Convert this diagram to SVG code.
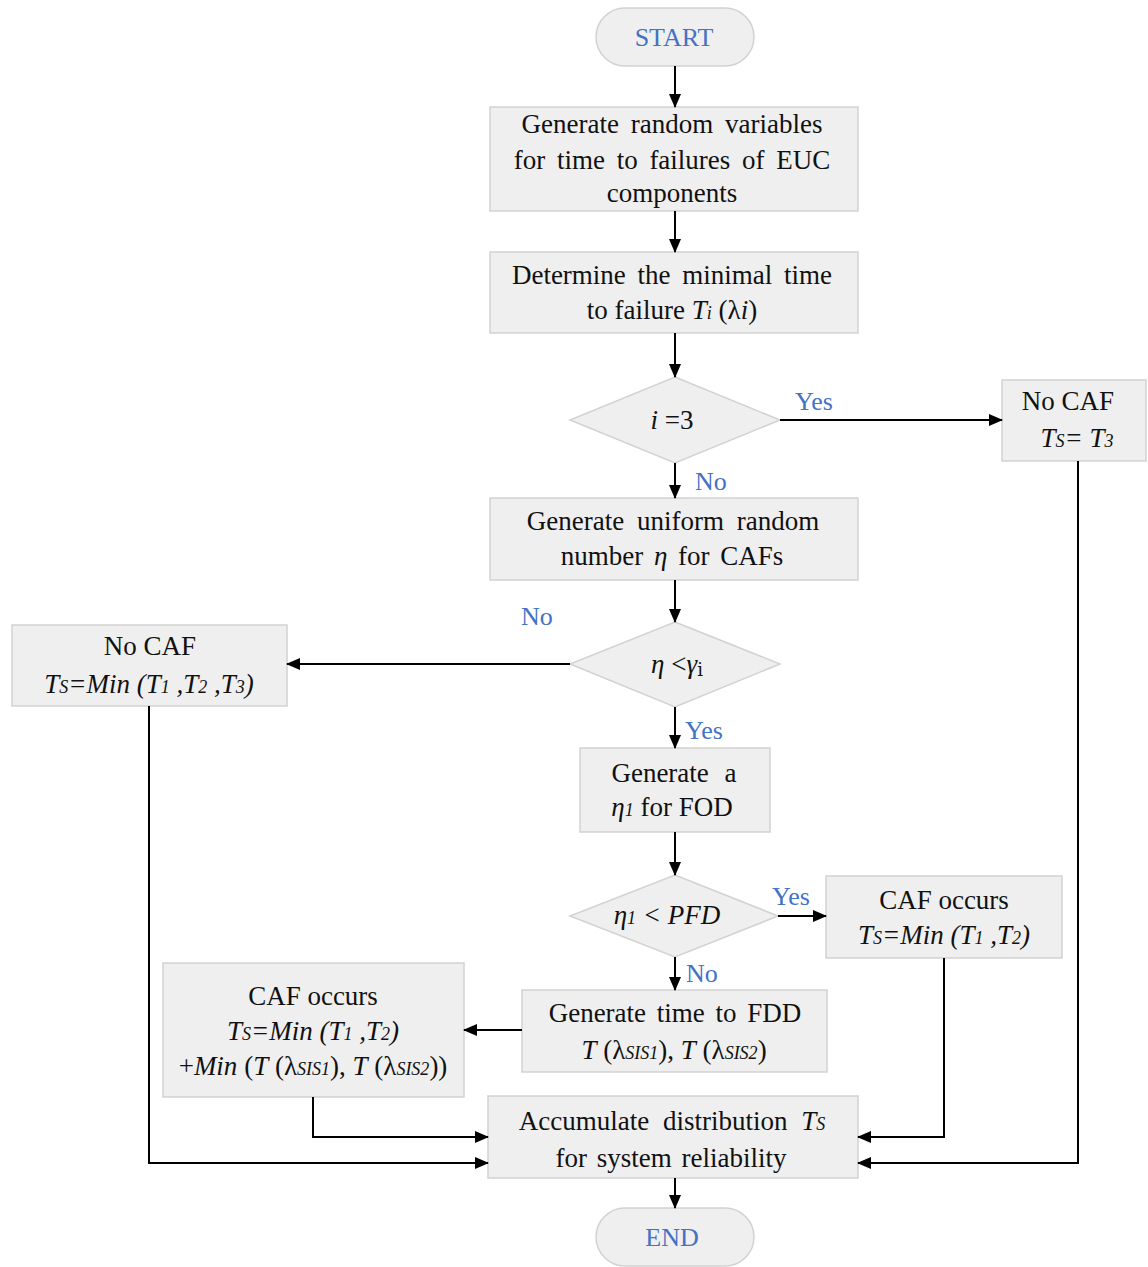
<svg xmlns="http://www.w3.org/2000/svg" width="1148" height="1267" viewBox="0 0 1148 1267">
<defs>
<marker id="ah" markerWidth="14" markerHeight="12" refX="13" refY="6" orient="auto" markerUnits="userSpaceOnUse">
<path d="M0,0 L14,6 L0,12 Z" fill="#000"/>
</marker>
<style>
.n{fill:#efefef;stroke:#d2d2d2;stroke-width:1.5}
.t{font-family:"Liberation Serif","Times New Roman",serif;font-size:27px;fill:#111;text-anchor:middle}
.i{font-style:italic}
.s{font-size:18px}
.lb{font-family:"Liberation Serif","Times New Roman",serif;font-size:26px;fill:#4472c4}
.term{font-family:"Liberation Serif","Times New Roman",serif;font-size:26px;fill:#4472c4;text-anchor:middle}
.c{fill:none;stroke:#000;stroke-width:2;marker-end:url(#ah)}
</style>
</defs>
<rect width="1148" height="1267" fill="#fff"/>

<g id="start"><rect class="n" x="596" y="8" width="158" height="58" rx="29"/><text class="term" x="674" y="46">START</text></g>

<g id="gen-rv"><rect class="n" x="490" y="107" width="368" height="104"/>
<text class="t" x="672" y="133" word-spacing="5">Generate random variables</text>
<text class="t" x="672" y="169" word-spacing="5">for time to failures of EUC</text>
<text class="t" x="672" y="202">components</text></g>

<g id="min-time"><rect class="n" x="490" y="252" width="368" height="81"/>
<text class="t" x="672" y="284" word-spacing="5">Determine the minimal time</text>
<text class="t" x="672" y="319">to failure <tspan class="i">T<tspan class="s">i</tspan></tspan> (λ<tspan class="i">i</tspan>)</text></g>

<g id="dec-i3"><polygon class="n" points="675,377 780,420 675,463 570,420"/>
<text class="t" x="672" y="429"><tspan class="i">i</tspan> =3</text></g>

<g id="nocaf-right"><rect class="n" x="1002" y="380" width="144" height="81"/>
<text class="t" x="1068" y="410">No CAF</text>
<text class="t i" x="1077" y="447">T<tspan class="s">S</tspan>= T<tspan class="s">3</tspan></text></g>

<g id="gen-eta"><rect class="n" x="490" y="498" width="368" height="82"/>
<text class="t" x="673" y="530" word-spacing="6">Generate uniform random</text>
<text class="t" x="672" y="565" word-spacing="4">number <tspan class="i">η</tspan> for CAFs</text></g>

<g id="dec-gamma"><polygon class="n" points="675,622 780,664 675,707 570,664"/>
<text class="t" x="677" y="673"><tspan class="i">η</tspan> &lt;<tspan class="i">γ</tspan><tspan class="s" dy="3" font-family="'DejaVu Serif',serif">i</tspan></text></g>

<g id="nocaf-left"><rect class="n" x="12" y="625" width="275" height="81"/>
<text class="t" x="150" y="655">No CAF</text>
<text class="t i" x="149" y="693">T<tspan class="s">S</tspan>=Min (T<tspan class="s">1</tspan> ,T<tspan class="s">2</tspan> ,T<tspan class="s">3</tspan>)</text></g>

<g id="gen-eta1"><rect class="n" x="580" y="748" width="190" height="84"/>
<text class="t" x="674" y="782" word-spacing="9">Generate a</text>
<text class="t" x="672" y="816"><tspan class="i">η<tspan class="s">1</tspan></tspan> for FOD</text></g>

<g id="dec-pfd"><polygon class="n" points="675,875 778,916 675,957 570,916"/>
<text class="t i" x="667" y="924">η<tspan class="s">1</tspan> &lt; PFD</text></g>

<g id="caf-right"><rect class="n" x="826" y="876" width="236" height="82"/>
<text class="t" x="944" y="909">CAF occurs</text>
<text class="t i" x="944" y="944">T<tspan class="s">S</tspan>=Min (T<tspan class="s">1</tspan> ,T<tspan class="s">2</tspan>)</text></g>

<g id="gen-fdd"><rect class="n" x="522" y="990" width="305" height="82"/>
<text class="t" x="675" y="1022" word-spacing="4">Generate time to FDD</text>
<text class="t" x="674" y="1059"><tspan class="i">T</tspan> (λ<tspan class="s i">SIS1</tspan>), <tspan class="i">T</tspan> (λ<tspan class="s i">SIS2</tspan>)</text></g>

<g id="caf-left"><rect class="n" x="163" y="963" width="301" height="134"/>
<text class="t" x="313" y="1005">CAF occurs</text>
<text class="t i" x="313" y="1040">T<tspan class="s">S</tspan>=Min (T<tspan class="s">1</tspan> ,T<tspan class="s">2</tspan>)</text>
<text class="t" x="313" y="1075">+<tspan class="i">Min</tspan> (<tspan class="i">T</tspan> (λ<tspan class="s i">SIS1</tspan>), <tspan class="i">T</tspan> (λ<tspan class="s i">SIS2</tspan>))</text></g>

<g id="accumulate"><rect class="n" x="488" y="1096" width="370" height="82"/>
<text class="t" x="672" y="1130" word-spacing="7">Accumulate distribution <tspan class="i">T<tspan class="s">S</tspan></tspan></text>
<text class="t" x="671" y="1167" word-spacing="3">for system reliability</text></g>

<g id="end"><rect class="n" x="596" y="1208" width="158" height="58" rx="29"/><text class="term" x="672" y="1246">END</text></g>

<g id="connectors">
<path class="c" d="M675,66 V107"/>
<path class="c" d="M675,211 V252"/>
<path class="c" d="M675,333 V377"/>
<path class="c" d="M780,420 H1002"/>
<path class="c" d="M675,463 V498"/>
<path class="c" d="M675,580 V622"/>
<path class="c" d="M570,664 H287"/>
<path class="c" d="M675,707 V748"/>
<path class="c" d="M675,832 V875"/>
<path class="c" d="M778,916 H826"/>
<path class="c" d="M675,957 V990"/>
<path class="c" d="M522,1030 H464"/>
<path class="c" d="M313,1097 V1137 H488"/>
<path class="c" d="M149,706 V1163 H488"/>
<path class="c" d="M944,958 V1137 H858"/>
<path class="c" d="M1078,461 V1163 H858"/>
<path class="c" d="M675,1178 V1208"/>
<text class="lb" x="795" y="410">Yes</text>
<text class="lb" x="695" y="490">No</text>
<text class="lb" x="521" y="625">No</text>
<text class="lb" x="685" y="739">Yes</text>
<text class="lb" x="772" y="905">Yes</text>
<text class="lb" x="686" y="982">No</text>
</g>
</svg>
